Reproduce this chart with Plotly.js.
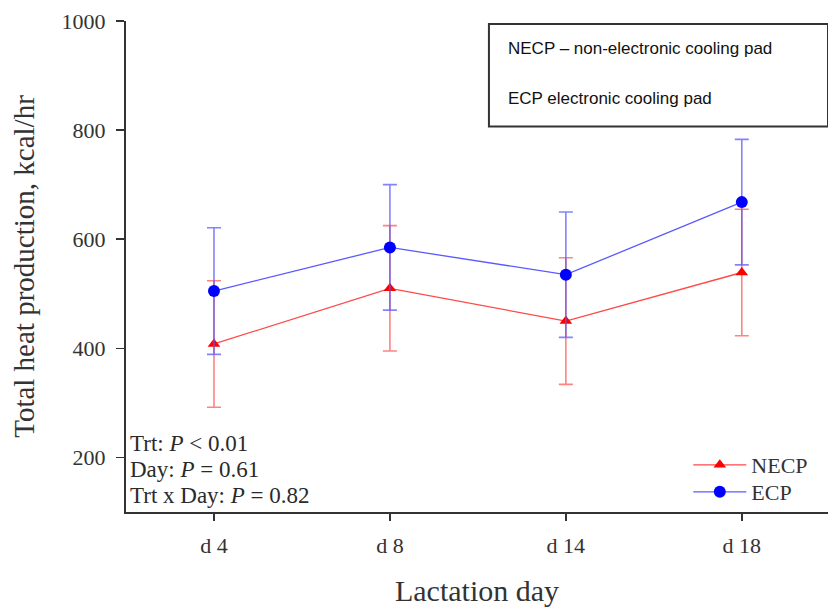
<!DOCTYPE html>
<html><head><meta charset="utf-8">
<script src="https://cdn.plot.ly/plotly-3.0.1.min.js"></script>
<style>html,body{margin:0;padding:0;overflow:hidden;background:#fff}</style>
</head><body>
<div id="chart" style="width:828px;height:607px"></div>
<script>
const days = ["d 4", "d 8", "d 14", "d 18"];
const necp = [408, 510, 450, 539];
const necpErr = [116, 115, 116, 116];
const ecp = [505, 585, 535, 668];
const ecpErr = [116, 115, 115, 115];
const yTicks = [200, 400, 600, 800, 1000];

const serif = "Liberation Serif, Times New Roman, serif";
const sans = "Liberation Sans, Arial, sans-serif";

const traces = [
  {
    x: days, y: necp, name: "NECP", type: "scatter", mode: "lines+markers", legend: "legend",
    line: {color: "rgba(255,40,40,0.85)", width: 1.3},
    marker: {symbol: "triangle-up", size: 11, color: "#ff0000"},
    error_y: {type: "data", array: necpErr, visible: true, color: "rgba(255,90,90,0.75)", thickness: 1.6, width: 7}
  },
  {
    x: days, y: ecp, name: "ECP", type: "scatter", mode: "lines+markers", legend: "legend2",
    line: {color: "rgba(60,60,255,0.85)", width: 1.3},
    marker: {symbol: "circle", size: 12, color: "#0000ff"},
    error_y: {type: "data", array: ecpErr, visible: true, color: "rgba(90,90,255,0.75)", thickness: 1.6, width: 7}
  }
];

const legendBase = {
  xanchor: "left", yanchor: "middle",
  font: {family: serif, size: 22, color: "#333"},
  bgcolor: "rgba(0,0,0,0)", itemwidth: 53
};

const layout = {
  width: 828, height: 607,
  margin: {l: 126, r: 0, t: 21, b: 95},
  paper_bgcolor: "#fff", plot_bgcolor: "#fff",
  font: {family: serif, color: "#333"},
  showlegend: true,
  legend: Object.assign({}, legendBase, {x: 0.801, y: 0.0957}),
  legend2: Object.assign({}, legendBase, {x: 0.801, y: 0.0407}),
  xaxis: {
    type: "category", range: [-0.5, 3.49],
    showline: true, linecolor: "#333", linewidth: 2,
    ticks: "outside", ticklen: 7, tickcolor: "#333", tickwidth: 1.5,
    showgrid: false, zeroline: false, ticklabelstandoff: 6,
    tickfont: {family: serif, size: 22, color: "#333"},
    title: {text: "Lactation day", font: {family: serif, size: 30, color: "#333"}, standoff: 30}
  },
  yaxis: {
    range: [100, 1000], tickvals: yTicks,
    showline: true, linecolor: "#333", linewidth: 2,
    ticks: "outside", ticklen: 8, tickcolor: "#333", tickwidth: 1.5,
    showgrid: false, zeroline: false, ticklabelstandoff: 6,
    tickfont: {family: serif, size: 22, color: "#333"},
    title: {text: "Total heat production, kcal/hr", font: {family: serif, size: 29, color: "#333"}, standoff: 18}
  },
  shapes: [
    {type: "rect", xref: "paper", yref: "paper", x0: 0.517, x1: 1.0, y0: 0.785, y1: 0.994,
     line: {color: "#333", width: 2}, fillcolor: "rgba(0,0,0,0)"}
  ],
  annotations: [
    {xref: "paper", yref: "paper", x: 0.541, y: 0.945, xanchor: "left", yanchor: "middle", showarrow: false,
     text: "NECP – non-electronic cooling pad", font: {family: sans, size: 17, color: "#111"}},
    {xref: "paper", yref: "paper", x: 0.541, y: 0.842, xanchor: "left", yanchor: "middle", showarrow: false,
     text: "ECP electronic cooling pad", font: {family: sans, size: 17, color: "#111"}},
    {xref: "paper", yref: "paper", x: 0.003, y: 0.14, xanchor: "left", yanchor: "middle", showarrow: false,
     text: "Trt: <i>P</i> < 0.01", font: {family: serif, size: 23, color: "#2a2a2a"}},
    {xref: "paper", yref: "paper", x: 0.003, y: 0.086, xanchor: "left", yanchor: "middle", showarrow: false,
     text: "Day: <i>P</i> = 0.61", font: {family: serif, size: 23, color: "#2a2a2a"}},
    {xref: "paper", yref: "paper", x: 0.003, y: 0.033, xanchor: "left", yanchor: "middle", showarrow: false,
     text: "Trt x Day: <i>P</i> = 0.82", font: {family: serif, size: 23, color: "#2a2a2a"}}
  ]
};

Plotly.newPlot("chart", traces, layout, {displayModeBar: false, staticPlot: true});
</script>
</body></html>
